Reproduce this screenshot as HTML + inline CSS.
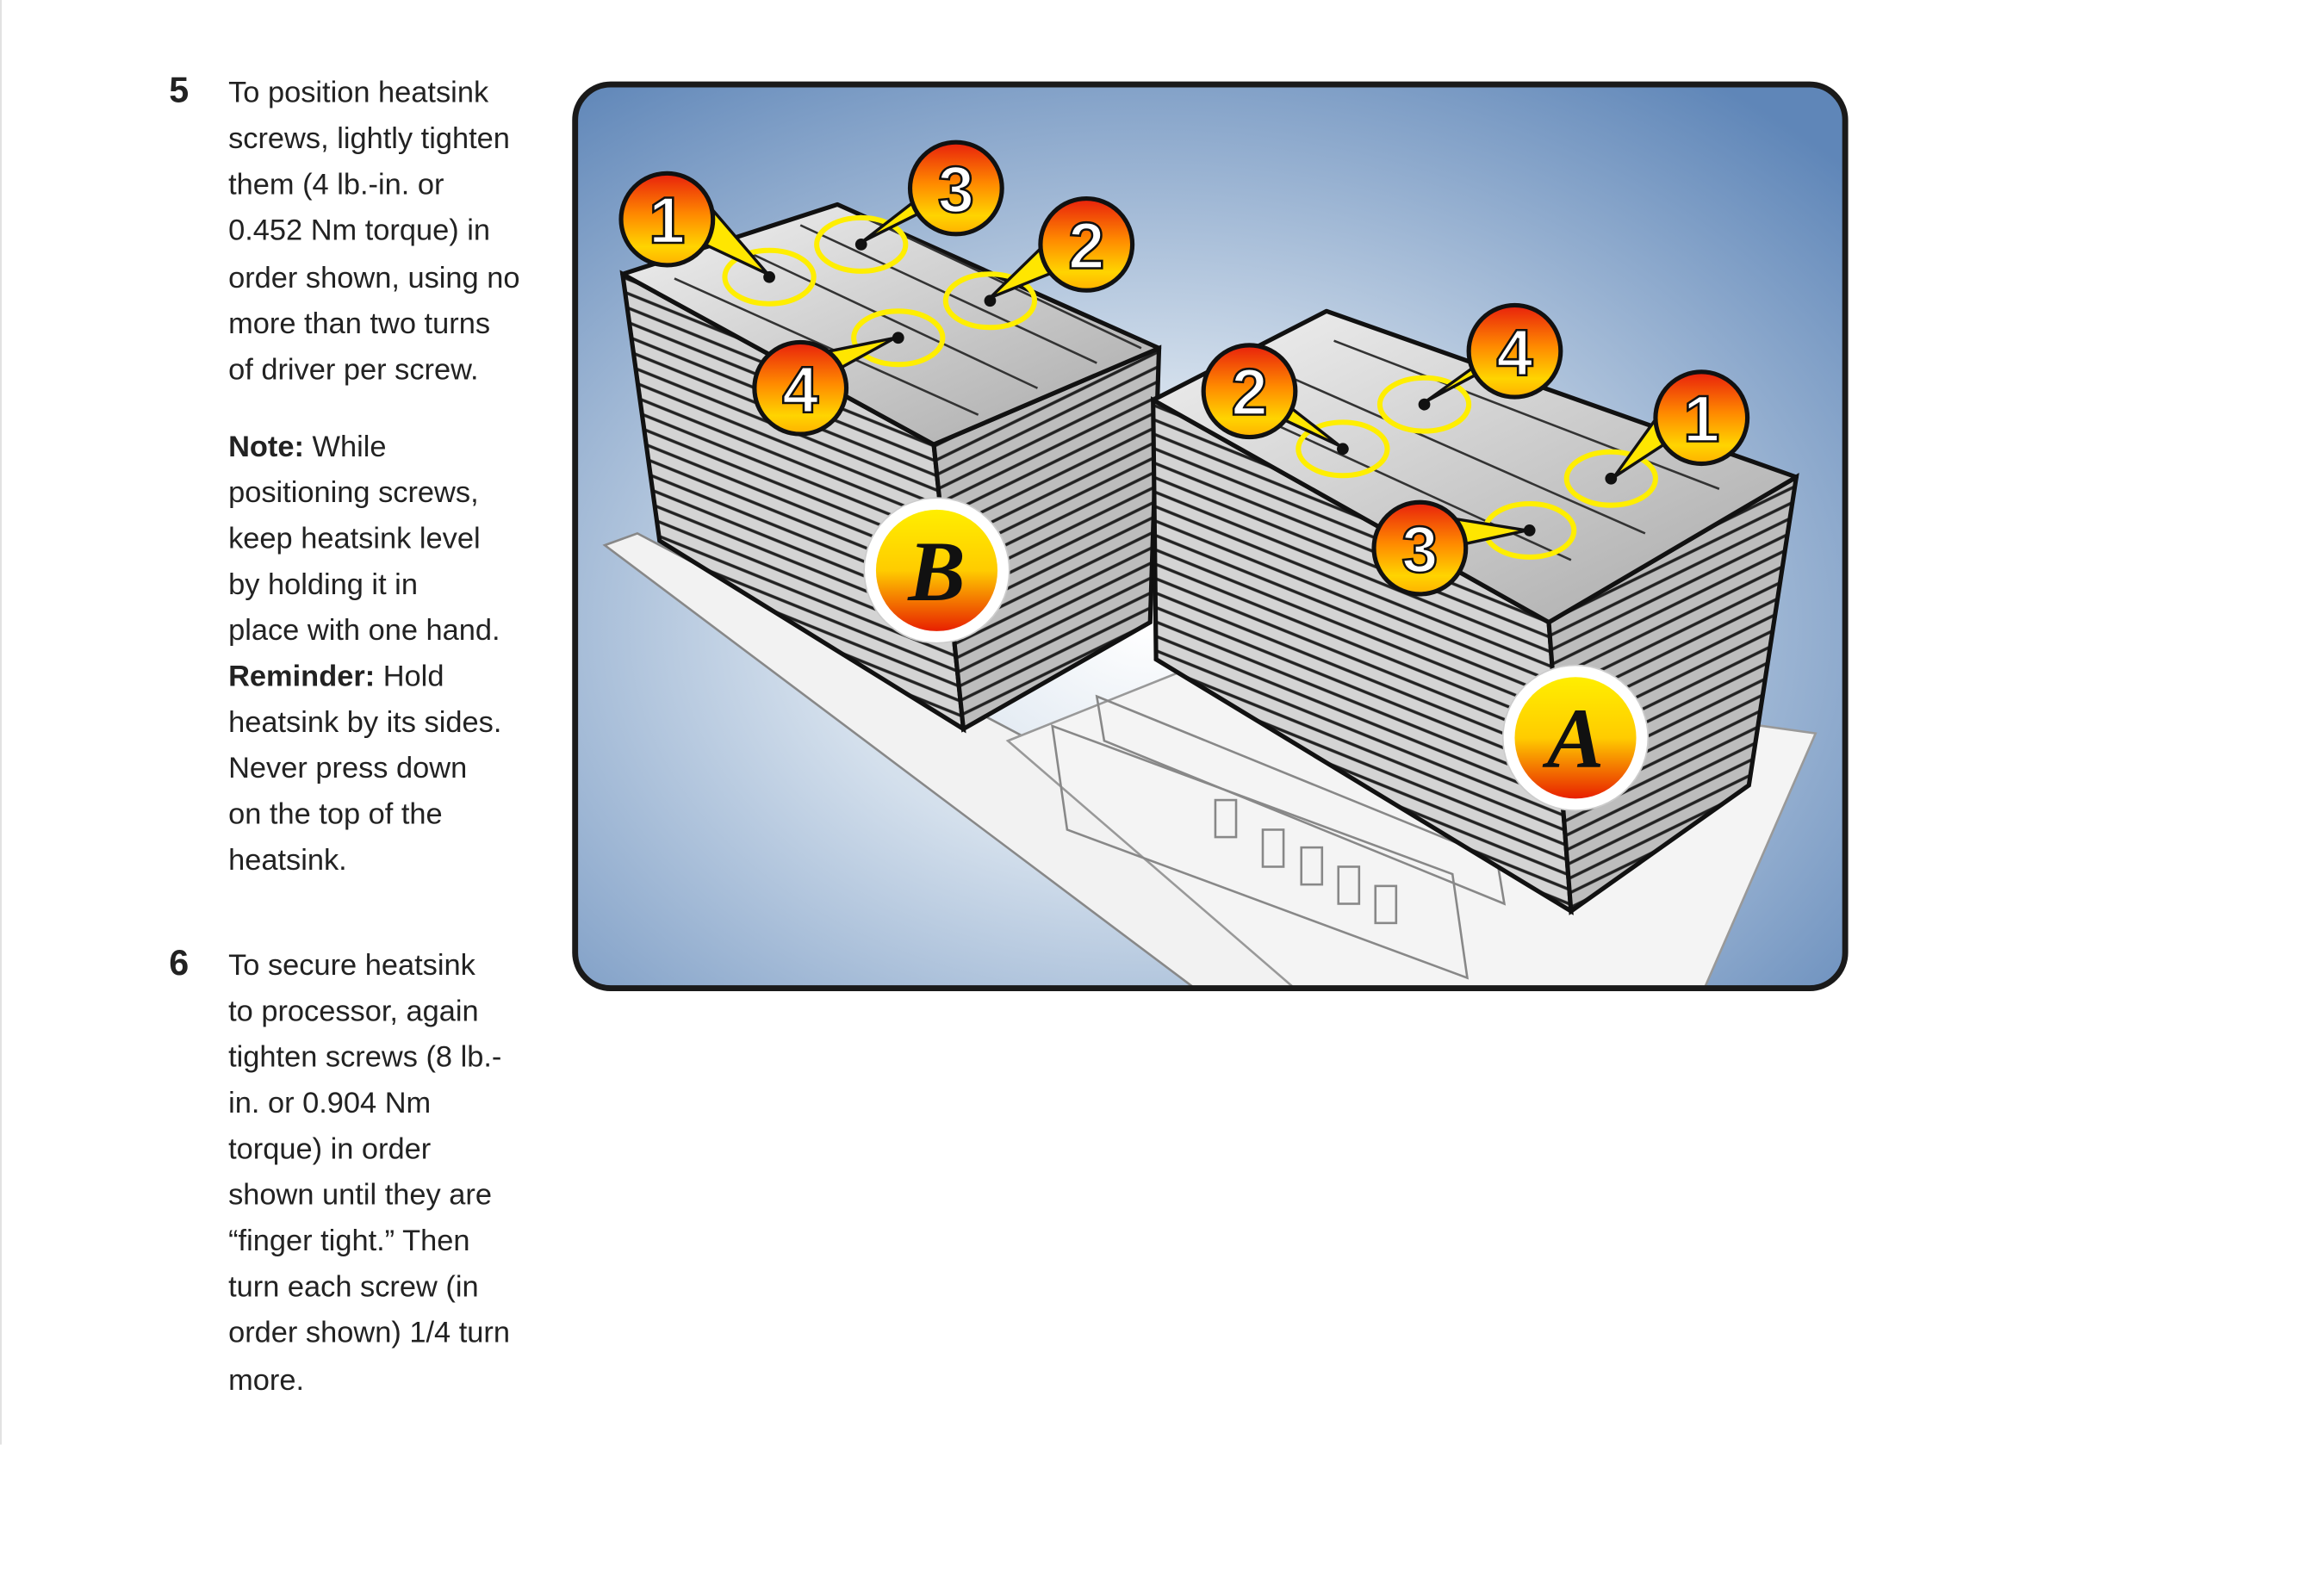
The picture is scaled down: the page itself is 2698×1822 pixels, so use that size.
<!DOCTYPE html>
<html><head><style>
html,body{margin:0;padding:0;background:#fff;}
svg{display:block;}
</style></head><body>
<svg width="2698" height="1822" viewBox="0 0 1568 1059" xmlns="http://www.w3.org/2000/svg">
<defs>
<radialGradient id="bg" cx="0.45" cy="0.6" r="0.75">
<stop offset="0" stop-color="#ffffff"/><stop offset="0.35" stop-color="#d3dfec"/><stop offset="1" stop-color="#5f86b8"/>
</radialGradient>
<linearGradient id="ball" x1="0" y1="0" x2="0" y2="1">
<stop offset="0" stop-color="#e8200c"/><stop offset="0.45" stop-color="#ff8a00"/><stop offset="0.8" stop-color="#ffd400"/><stop offset="1" stop-color="#ffb000"/>
</linearGradient>
<linearGradient id="badge" x1="0" y1="0" x2="0" y2="1">
<stop offset="0" stop-color="#ffee00"/><stop offset="0.5" stop-color="#ffcc00"/><stop offset="1" stop-color="#e82000"/>
</linearGradient>
<linearGradient id="top" x1="0" y1="0" x2="1" y2="1">
<stop offset="0" stop-color="#f2f2f2"/><stop offset="1" stop-color="#a8a8a8"/>
</linearGradient>
<pattern id="fins" width="10" height="9" patternUnits="userSpaceOnUse" patternTransform="rotate(22)">
<rect width="10" height="9" fill="#d4d4d4"/><rect y="6" width="10" height="2" fill="#222"/>
</pattern>
<pattern id="fins2" width="10" height="9" patternUnits="userSpaceOnUse" patternTransform="rotate(-26)">
<rect width="10" height="9" fill="#bdbdbd"/><rect y="6" width="10" height="2" fill="#222"/>
</pattern>
<clipPath id="box"><rect x="388" y="57" width="857" height="610" rx="24"/></clipPath>
</defs>
<line x1="0.5" y1="0" x2="0.5" y2="975" stroke="#ddd" stroke-width="1"/>
<g font-family="Liberation Sans, sans-serif" font-size="20" fill="#222">
<text x="114" y="69" font-weight="bold" font-size="24">5</text>
<text x="154" y="69">To position heatsink</text>
<text x="154" y="100">screws, lightly tighten</text>
<text x="154" y="131">them (4 lb.-in. or</text>
<text x="154" y="162">0.452 Nm torque) in</text>
<text x="154" y="194">order shown, using no</text>
<text x="154" y="225">more than two turns</text>
<text x="154" y="256">of driver per screw.</text>
<text x="154" y="308"><tspan font-weight="bold">Note:</tspan> While</text>
<text x="154" y="339">positioning screws,</text>
<text x="154" y="370">keep heatsink level</text>
<text x="154" y="401">by holding it in</text>
<text x="154" y="432">place with one hand.</text>
<text x="154" y="463"><tspan font-weight="bold">Reminder:</tspan> Hold</text>
<text x="154" y="494">heatsink by its sides.</text>
<text x="154" y="525">Never press down</text>
<text x="154" y="556">on the top of the</text>
<text x="154" y="587">heatsink.</text>
<text x="114" y="658" font-weight="bold" font-size="24">6</text>
<text x="154" y="658">To secure heatsink</text>
<text x="154" y="689">to processor, again</text>
<text x="154" y="720">tighten screws (8 lb.-</text>
<text x="154" y="751">in. or 0.904 Nm</text>
<text x="154" y="782">torque) in order</text>
<text x="154" y="813">shown until they are</text>
<text x="154" y="844">“finger tight.” Then</text>
<text x="154" y="875">turn each screw (in</text>
<text x="154" y="906">order shown) 1/4 turn</text>
<text x="154" y="938">more.</text>
</g>
<rect x="388" y="57" width="857" height="610" rx="24" fill="url(#bg)"/>
<g clip-path="url(#box)">
<polygon points="408,368 430,360 1000,660 850,700" fill="#f2f2f2" stroke="#888" stroke-width="1.5"/>
<polygon points="680,500 830,440 1225,495 1140,690 900,690" fill="#f4f4f4" stroke="#999" stroke-width="1.5"/>
<g fill="none" stroke="#888" stroke-width="1.5">
<polygon points="710,490 980,590 990,660 720,560"/>
<polygon points="740,470 1010,580 1015,610 745,500"/>
<rect x="820" y="540" width="14" height="25"/><rect x="852" y="560" width="14" height="25"/><rect x="878" y="572" width="14" height="25"/><rect x="903" y="585" width="14" height="25"/><rect x="928" y="598" width="14" height="25"/>
</g>
<polygon points="420,185 445,365 650,492 630,300" fill="url(#fins)" stroke="#111" stroke-width="3"/>
<polygon points="630,300 650,492 776,420 782,235" fill="url(#fins2)" stroke="#111" stroke-width="3"/>
<polygon points="420,185 565,138 782,235 630,300" fill="url(#top)" stroke="#111" stroke-width="3" stroke-linejoin="round"/>
<g fill="none" stroke="#333" stroke-width="1.5">
<path d="M455,188 L660,280 M500,168 L700,262 M540,152 L740,245 M580,145 L770,235"/>
</g>
<polygon points="778,270 780,445 1060,615 1045,420" fill="url(#fins)" stroke="#111" stroke-width="3"/>
<polygon points="1045,420 1060,615 1180,530 1212,322" fill="url(#fins2)" stroke="#111" stroke-width="3"/>
<polygon points="778,270 895,210 1212,322 1045,420" fill="url(#top)" stroke="#111" stroke-width="3" stroke-linejoin="round"/>
<g fill="none" stroke="#333" stroke-width="1.5">
<path d="M820,268 L1060,378 M860,250 L1110,360 M900,230 L1160,330"/>
</g>
</g>
<rect x="388" y="57" width="857" height="610" rx="24" fill="none" stroke="#1a1a1a" stroke-width="4"/>
<g fill="none" stroke="#ffee00" stroke-width="3.5">
<ellipse cx="519" cy="187" rx="30" ry="18"/><ellipse cx="581" cy="165" rx="30" ry="18"/>
<ellipse cx="668" cy="203" rx="30" ry="18"/><ellipse cx="606" cy="228" rx="30" ry="18"/>
<ellipse cx="906" cy="303" rx="30" ry="18"/><ellipse cx="961" cy="273" rx="30" ry="18"/>
<ellipse cx="1087" cy="323" rx="30" ry="18"/><ellipse cx="1032" cy="358" rx="30" ry="18"/>
</g>
<g fill="#111">
<circle cx="519" cy="187" r="4"/><circle cx="581" cy="165" r="4"/><circle cx="668" cy="203" r="4"/><circle cx="606" cy="228" r="4"/>
<circle cx="906" cy="303" r="4"/><circle cx="961" cy="273" r="4"/><circle cx="1087" cy="323" r="4"/><circle cx="1032" cy="358" r="4"/>
</g>
<g fill="#ffe600" stroke="#111" stroke-width="2">
<polygon points="465,160 518,185 475,135"/>
<polygon points="628,140 582,163 640,118"/>
<polygon points="720,180 668,201 710,160"/>
<polygon points="555,255 604,228 545,240"/>
<polygon points="855,278 904,301 845,255"/>
<polygon points="1005,248 962,271 1022,228"/>
<polygon points="1138,290 1089,322 1125,272"/>
<polygon points="975,370 1030,358 968,348"/>
</g>
<g font-family="Liberation Sans, sans-serif" font-size="44" font-weight="bold" fill="#fff" stroke="#111" stroke-width="1.5" text-anchor="middle">
<circle cx="450" cy="148" r="31" fill="url(#ball)" stroke="#111" stroke-width="3"/><text x="450" y="164">1</text>
<circle cx="645" cy="127" r="31" fill="url(#ball)" stroke="#111" stroke-width="3"/><text x="645" y="143">3</text>
<circle cx="733" cy="165" r="31" fill="url(#ball)" stroke="#111" stroke-width="3"/><text x="733" y="181">2</text>
<circle cx="540" cy="262" r="31" fill="url(#ball)" stroke="#111" stroke-width="3"/><text x="540" y="278">4</text>
<circle cx="843" cy="264" r="31" fill="url(#ball)" stroke="#111" stroke-width="3"/><text x="843" y="280">2</text>
<circle cx="1022" cy="237" r="31" fill="url(#ball)" stroke="#111" stroke-width="3"/><text x="1022" y="253">4</text>
<circle cx="1148" cy="282" r="31" fill="url(#ball)" stroke="#111" stroke-width="3"/><text x="1148" y="298">1</text>
<circle cx="958" cy="370" r="31" fill="url(#ball)" stroke="#111" stroke-width="3"/><text x="958" y="386">3</text>
</g>
<g font-family="Liberation Serif, serif" font-size="58" font-weight="bold" font-style="italic" fill="#111" text-anchor="middle">
<circle cx="632" cy="385" r="49" fill="#fff" stroke="#ccc" stroke-width="1"/>
<circle cx="632" cy="385" r="41" fill="url(#badge)"/><text x="632" y="405">B</text>
<circle cx="1063" cy="498" r="49" fill="#fff" stroke="#ccc" stroke-width="1"/>
<circle cx="1063" cy="498" r="41" fill="url(#badge)"/><text x="1063" y="518">A</text>
</g>
</svg>
</body></html>
